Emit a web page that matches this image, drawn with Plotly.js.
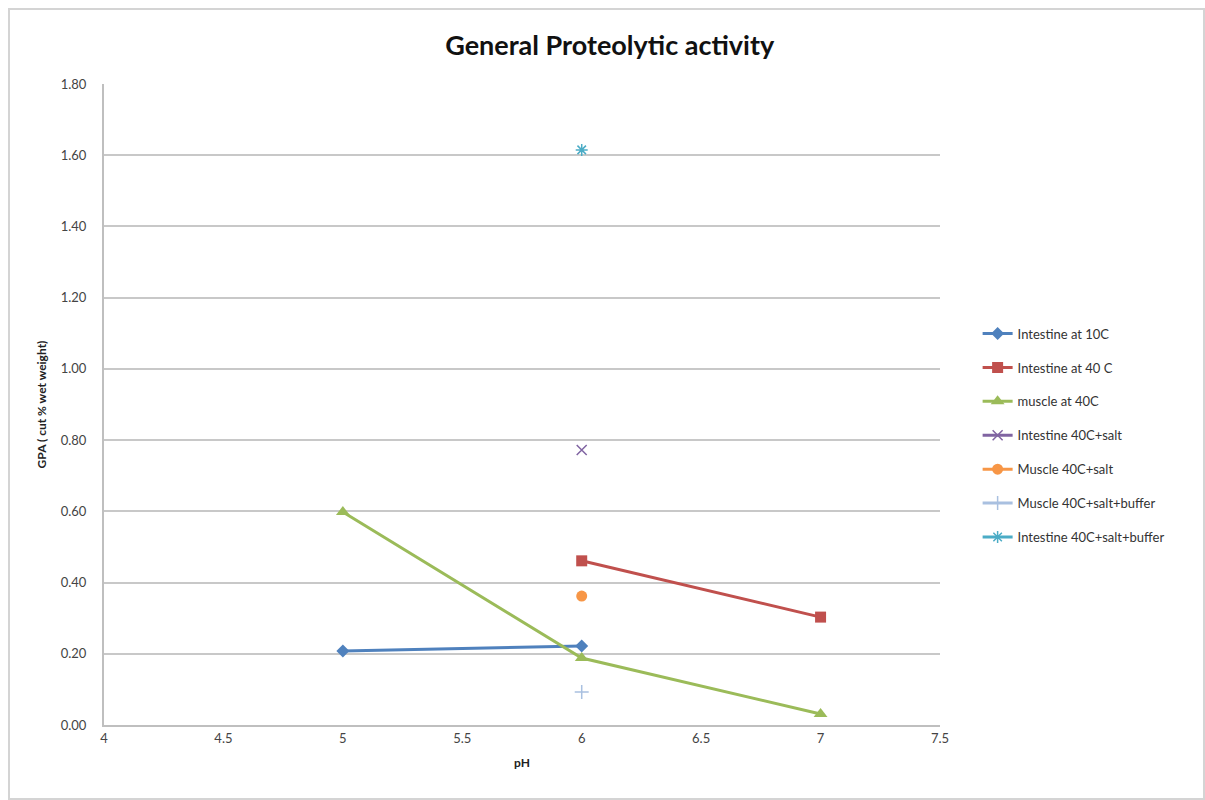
<!DOCTYPE html>
<html>
<head>
<meta charset="utf-8">
<script src="https://cdn.plot.ly/plotly-3.0.1.min.js"></script>
<style>
html,body{margin:0;padding:0;background:#fff;}
#frame{position:absolute;left:8px;top:8px;width:1197px;height:792px;border:2px solid #d4d4d4;box-sizing:border-box;}
#chart{position:absolute;left:0;top:0;width:1205px;height:800px;}
</style>
</head>
<body>
<div id="frame"></div>
<div id="chart"></div>
<script>
const seriesNames = ["Intestine at 10C","Intestine at 40 C","muscle at 40C","Intestine 40C+salt","Muscle 40C+salt","Muscle 40C+salt+buffer","Intestine 40C+salt+buffer"];
const intestine10C_x = [5, 6];
const intestine10C_y = [0.208, 0.222];
const intestine40C_x = [6, 7];
const intestine40C_y = [0.461, 0.303];
const muscle40C_x = [5, 6, 7];
const muscle40C_y = [0.598, 0.188, 0.031];
const intestineSalt_x = [6];
const intestineSalt_y = [0.772];
const muscleSalt_x = [6];
const muscleSalt_y = [0.362];
const muscleSaltBuffer_x = [6];
const muscleSaltBuffer_y = [0.093];
const intestineSaltBuffer_x = [6];
const intestineSaltBuffer_y = [1.615];
const xTicks = [4, 4.5, 5, 5.5, 6, 6.5, 7, 7.5];
const yTicks = [0, 0.2, 0.4, 0.6, 0.8, 1.0, 1.2, 1.4, 1.6, 1.8];

const colors = ["#4F81BD","#C0504D","#9BBB59","#8064A2","#F79646","#A9C0E0","#4BACC6"];
const symbols = ["diamond","square","triangle-up","x-thin-open","circle","cross-thin-open","asterisk-open"];
const sizes = [10, 11, 12, 10, 11, 10, 10];
const xs = [intestine10C_x, intestine40C_x, muscle40C_x, intestineSalt_x, muscleSalt_x, muscleSaltBuffer_x, intestineSaltBuffer_x];
const ys = [intestine10C_y, intestine40C_y, muscle40C_y, intestineSalt_y, muscleSalt_y, muscleSaltBuffer_y, intestineSaltBuffer_y];

const traces = seriesNames.map((n, i) => ({
  x: xs[i], y: ys[i], name: n, type: 'scatter', mode: 'lines+markers',
  legendgroup: 'g' + i,
  line: {color: colors[i], width: 3},
  marker: {color: colors[i], symbol: symbols[i], size: sizes[i],
           line: {color: colors[i], width: (i === 3 || i === 5 || i === 6) ? 1.5 : 0}}
}));

const layout = {
  width: 1205, height: 800,
  paper_bgcolor: 'rgba(0,0,0,0)', plot_bgcolor: '#fff',
  margin: {l: 104, r: 265, t: 84, b: 75},
  font: {family: 'Lato, "Open Sans", sans-serif', color: '#333'},
  title: {text: '<b>General Proteolytic activity</b>', x: 0.506, xanchor: 'center', y: 0.943, yanchor: 'middle',
          font: {size: 27, color: '#111', family: 'Lato, sans-serif'}},
  xaxis: {range: [4, 7.5], tickvals: xTicks, ticktext: xTicks.map(String), showgrid: false, zeroline: false,
          showline: true, linecolor: '#bfbfbf', linewidth: 2, ticks: '', tickfont: {size: 13, color: '#444'},
          title: {text: '<b>pH</b>', font: {size: 12, color: '#222'}, standoff: 14}},
  yaxis: {range: [0, 1.8], tickvals: yTicks, ticktext: yTicks.map(v => v.toFixed(2)), showgrid: true,
          gridcolor: '#c8c8c8', gridwidth: 2, zeroline: false, showline: true, linecolor: '#bfbfbf', linewidth: 2,
          ticks: '', tickfont: {size: 13, color: '#444'}, ticklabelstandoff: 13,
          title: {text: '<b>GPA ( cut % wet weight)</b>', font: {size: 12, color: '#222'}, standoff: 11}},
  showlegend: true,
  legend: {x: 1.045, xanchor: 'left', y: 0.634, yanchor: 'top', traceorder: 'grouped', tracegroupgap: 14,
           font: {size: 13, color: '#333'}, bgcolor: 'rgba(0,0,0,0)'}
};

Plotly.newPlot('chart', traces, layout, {displayModeBar: false, staticPlot: true});
</script>
</body>
</html>
